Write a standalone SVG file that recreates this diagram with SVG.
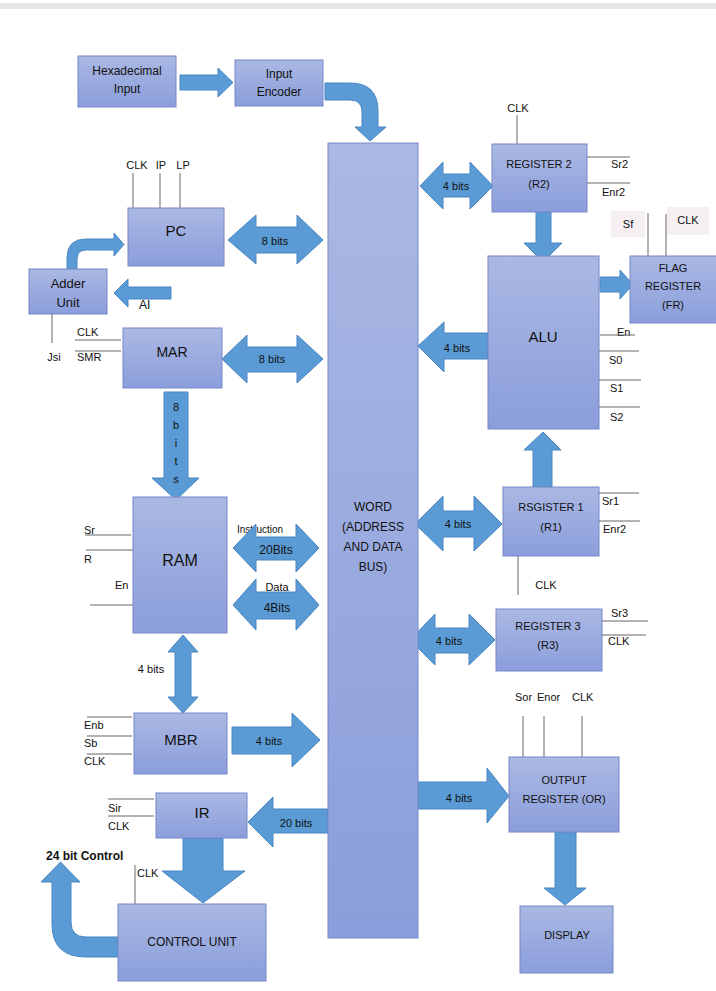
<svg xmlns="http://www.w3.org/2000/svg" width="716" height="991" viewBox="0 0 716 991">
<defs>
<linearGradient id="bg" x1="0" y1="0" x2="0" y2="1">
<stop offset="0" stop-color="#aab8e3"/>
<stop offset="1" stop-color="#8b9edb"/>
</linearGradient>
<style>
.box{fill:url(#bg);stroke:#7688c8;stroke-width:1}
.arr{fill:#5b9bd5;stroke:#4a86c2;stroke-width:1}
.sig{stroke:#666;stroke-width:1;fill:none}
text{font-family:"Liberation Sans",Arial,sans-serif;fill:#111}
.t{font-size:11px;text-anchor:middle}
.ts{font-size:11px}
.big{font-size:15px;text-anchor:middle}
.w{font-size:11px;fill:#fff;text-anchor:middle}
.lbl{fill:#f5eff1}
</style>
</defs>
<rect x="0" y="0" width="716" height="991" fill="#fff"/>
<rect x="0" y="3" width="716" height="6" fill="#e6e6e6"/>

<g id="connectors">
<path class="arr" d="M180,75 L218,75 L218,68 L233,82.5 L218,97 L218,90 L180,90 Z"/>
<path class="arr" d="M325,83 L350,83 Q378,83 378,111 L378,127 L386,127 L370,141 L355,127 L362,127 L362,112 Q362,100 350,100 L325,100 Z"/>
<path class="arr" d="M228,240 L256,215 L256,227 L297,227 L297,215 L323,240 L297,264 L297,253 L256,253 L256,264 Z"/>
<path class="arr" d="M67,269 L67,258 Q67,239 86,239 L114,239 L114,233 L124,244.5 L114,256 L114,250 L86,250 Q77,250 77,259 L77,269 Z"/>
<text class="ts" x="139" y="309" style="font-size:12px">AI</text>
<path class="arr" d="M114,293 L128,279 L128,287 L171,287 L171,299 L128,299 L128,307 Z"/>
<path class="arr" d="M222,359 L247,335 L247,347 L297,347 L297,335 L323,359 L297,383 L297,372 L247,372 L247,383 Z"/>
<path class="arr" d="M164,392 L188,392 L188,478 L199,478 L176,500 L152,478 L164,478 Z"/>
<text class="ts" x="237" y="533" style="font-size:10px">Instruction</text>
<path class="arr" d="M233,548 L256,524 L256,537 L296,537 L296,524 L319,548 L296,572 L296,560 L256,560 L256,572 Z"/>
<path class="arr" d="M233,605 L256,579 L256,592 L296,592 L296,579 L319,605 L296,630 L296,619 L256,619 L256,630 Z"/>
<path class="arr" d="M183,635 L198,652 L191,652 L191,697 L198,697 L183,713 L168,697 L175,697 L175,652 L168,652 Z"/>
<path class="arr" d="M232,727 L292,727 L292,713 L320,740 L292,767 L292,754 L232,754 Z"/>
<path class="arr" d="M248,822 L273,797 L273,809 L328,809 L328,833 L273,833 L273,847 Z"/>
<path class="arr" d="M183,838 L223,838 L223,871 L245,871 L203,903 L162,871 L183,871 Z"/>
<path class="arr" d="M118,937 L86,937 Q71,937 71,922 L71,882 L80,882 L60.5,862 L41,882 L52,882 L52,924 Q52,957 86,957 L118,957 Z"/>
<path class="arr" d="M420,186 L443,162 L443,174 L470,174 L470,162 L493,186 L470,209 L470,197 L443,197 L443,209 Z"/>
<path class="arr" d="M536,212 L551,212 L551,243 L562,243 L543,262 L524,243 L536,243 Z"/>
<path class="arr" d="M600,277 L620,277 L620,270 L633,284.5 L620,299 L620,292 L600,292 Z"/>
<path class="arr" d="M418,346 L444,322 L444,333 L488,333 L488,359 L444,359 L444,372 Z"/>
<path class="arr" d="M543,432 L561,450 L552,450 L552,487 L533,487 L533,450 L524,450 Z"/>
<path class="arr" d="M415,524 L443,496 L443,511 L474,511 L474,496 L502,524 L474,551 L474,537 L443,537 L443,551 Z"/>
<path class="arr" d="M410,640 L435,614 L435,628 L469,628 L469,614 L495,640 L469,665 L469,653 L435,653 L435,665 Z"/>
<path class="arr" d="M418,782 L487,782 L487,768 L509,796 L487,823 L487,809 L418,809 Z"/>
<path class="arr" d="M555,832 L576,832 L576,888 L586,888 L565,905 L544,888 L555,888 Z"/>
<g class="w">
<text x="275" y="245">8 bits</text>
<text x="272" y="363">8 bits</text>
<text x="176" y="411">8</text>
<text x="176" y="429">b</text>
<text x="176" y="447">i</text>
<text x="176" y="465">t</text>
<text x="176" y="483">s</text>
<text x="276" y="554" style="font-size:12px">20Bits</text>
<text x="277" y="612" style="font-size:12px">4Bits</text>
<text x="269" y="745">4 bits</text>
<text x="296" y="827">20 bits</text>
<text x="456" y="190">4 bits</text>
<text x="457" y="352">4 bits</text>
<text x="458" y="528">4 bits</text>
<text x="449" y="645">4 bits</text>
<text x="459" y="802">4 bits</text>
</g>
<text class="t" x="277" y="591">Data</text>
<text class="t" x="151" y="673">4 bits</text>
<text x="46" y="860" style="font-size:12px;font-weight:bold">24 bit Control</text>
</g>

<g id="hex">
<rect class="box" x="78" y="56" width="98" height="51"/>
<text class="t" x="127" y="75" style="font-size:12px">Hexadecimal</text>
<text class="t" x="127" y="93" style="font-size:12px">Input</text>
</g>
<g id="encoder">
<rect class="box" x="235" y="60" width="88" height="46"/>
<text class="t" x="279" y="78" style="font-size:12px">Input</text>
<text class="t" x="279" y="96" style="font-size:12px">Encoder</text>
</g>
<g id="bus">
<rect class="box" x="328" y="143" width="90" height="795"/>
<text class="t" x="373" y="511" style="font-size:12px">WORD</text>
<text class="t" x="373" y="531" style="font-size:12px">(ADDRESS</text>
<text class="t" x="373" y="551" style="font-size:12px">AND DATA</text>
<text class="t" x="373" y="571" style="font-size:12px">BUS)</text>
</g>
<g id="pc">
<path class="sig" d="M133,173 V208 M160,173 V208 M180,173 V208"/>
<text class="t" x="137" y="169">CLK</text>
<text class="t" x="161" y="169">IP</text>
<text class="t" x="183" y="169">LP</text>
<rect class="box" x="128" y="208" width="96" height="58"/>
<text class="big" x="176" y="236">PC</text>
</g>
<g id="adder">
<rect class="box" x="29" y="269" width="78" height="45"/>
<text class="t" x="68" y="288" style="font-size:13px">Adder</text>
<text class="t" x="68" y="307" style="font-size:13px">Unit</text>
<path class="sig" d="M52,314 V343"/>
<text class="t" x="54" y="361">Jsi</text>
</g>
<g id="mar">
<path class="sig" d="M75,340 H121 M75,351 H121"/>
<text class="ts" x="77" y="336">CLK</text>
<text class="ts" x="77" y="361">SMR</text>
<rect class="box" x="123" y="328" width="99" height="60"/>
<text class="big" x="172" y="357" style="font-size:14px">MAR</text>
</g>
<g id="ram">
<path class="sig" d="M85,535 H131 M86,550 H133 M90,605 H134"/>
<text class="ts" x="84" y="534">Sr</text>
<text class="ts" x="84" y="563">R</text>
<text class="ts" x="115" y="589">En</text>
<rect class="box" x="133" y="497" width="94" height="136"/>
<text class="big" x="180" y="566" style="font-size:16px">RAM</text>
</g>
<g id="mbr">
<path class="sig" d="M87,717 H132 M87,736 H132 M87,754 H132"/>
<text class="ts" x="84" y="729">Enb</text>
<text class="ts" x="84" y="747">Sb</text>
<text class="ts" x="84" y="765">CLK</text>
<rect class="box" x="134" y="713" width="93" height="61"/>
<text class="big" x="181" y="745">MBR</text>
</g>
<g id="ir">
<path class="sig" d="M108,799 H154 M108,816 H154"/>
<text class="ts" x="108" y="812">Sir</text>
<text class="ts" x="108" y="830">CLK</text>
<rect class="box" x="156" y="793" width="91" height="45"/>
<text class="big" x="202" y="818">IR</text>
</g>
<g id="cu">
<path class="sig" d="M135,865 V904"/>
<text class="ts" x="137" y="877">CLK</text>
<rect class="box" x="118" y="904" width="148" height="77"/>
<text class="t" x="192" y="946" style="font-size:12px">CONTROL UNIT</text>
</g>
<g id="r2">
<path class="sig" d="M517,115 V144 M587,157 H630 M587,183 H630"/>
<text class="t" x="518" y="112">CLK</text>
<rect class="box" x="492" y="144" width="95" height="68"/>
<text class="t" x="539" y="168">REGISTER 2</text>
<text class="t" x="539" y="188">(R2)</text>
<text class="ts" x="611" y="168">Sr2</text>
<text class="ts" x="602" y="196">Enr2</text>
</g>
<g id="flag">
<rect class="lbl" x="611" y="211" width="34" height="26"/>
<rect class="lbl" x="667" y="207" width="42" height="28"/>
<text class="t" x="628" y="228">Sf</text>
<text class="t" x="688" y="224">CLK</text>
<path class="sig" d="M648,213 V256 M666,214 V256"/>
<rect class="box" x="630" y="256" width="90" height="67"/>
<text class="t" x="673" y="272">FLAG</text>
<text class="t" x="673" y="290">REGISTER</text>
<text class="t" x="673" y="309">(FR)</text>
</g>
<g id="alu">
<rect class="box" x="488" y="256" width="111" height="173"/>
<text class="big" x="543" y="342">ALU</text>
<text class="ts" x="617" y="336">En</text>
<path class="sig" d="M600,335 H635 M599,351 H639 M599,380 H641 M599,407 H640"/>
<text class="ts" x="609" y="364">S0</text>
<text class="ts" x="610" y="392">S1</text>
<text class="ts" x="610" y="421">S2</text>
</g>
<g id="r1">
<rect class="box" x="503" y="487" width="96" height="69"/>
<text class="t" x="551" y="511">RSGISTER 1</text>
<text class="t" x="551" y="531">(R1)</text>
<path class="sig" d="M599,493 H639 M599,521 H640 M518,556 V595"/>
<text class="ts" x="602" y="505">Sr1</text>
<text class="ts" x="603" y="533">Enr2</text>
<text class="t" x="546" y="589">CLK</text>
</g>
<g id="r3">
<rect class="box" x="496" y="609" width="106" height="62"/>
<text class="t" x="548" y="630">REGISTER 3</text>
<text class="t" x="548" y="649">(R3)</text>
<path class="sig" d="M602,621 H648 M602,635 H646"/>
<text class="ts" x="611" y="617">Sr3</text>
<text class="ts" x="608" y="645">CLK</text>
</g>
<g id="or">
<text class="ts" x="515" y="701">Sor</text>
<text class="ts" x="537" y="701">Enor</text>
<text class="ts" x="572" y="701">CLK</text>
<path class="sig" d="M523,716 V757 M544,716 V757 M582,716 V757"/>
<rect class="box" x="509" y="757" width="110" height="75"/>
<text class="t" x="564" y="784">OUTPUT</text>
<text class="t" x="564" y="803">REGISTER (OR)</text>
</g>
<g id="display">
<rect class="box" x="520" y="906" width="93" height="67"/>
<text class="t" x="567" y="939">DISPLAY</text>
</g>
</svg>
